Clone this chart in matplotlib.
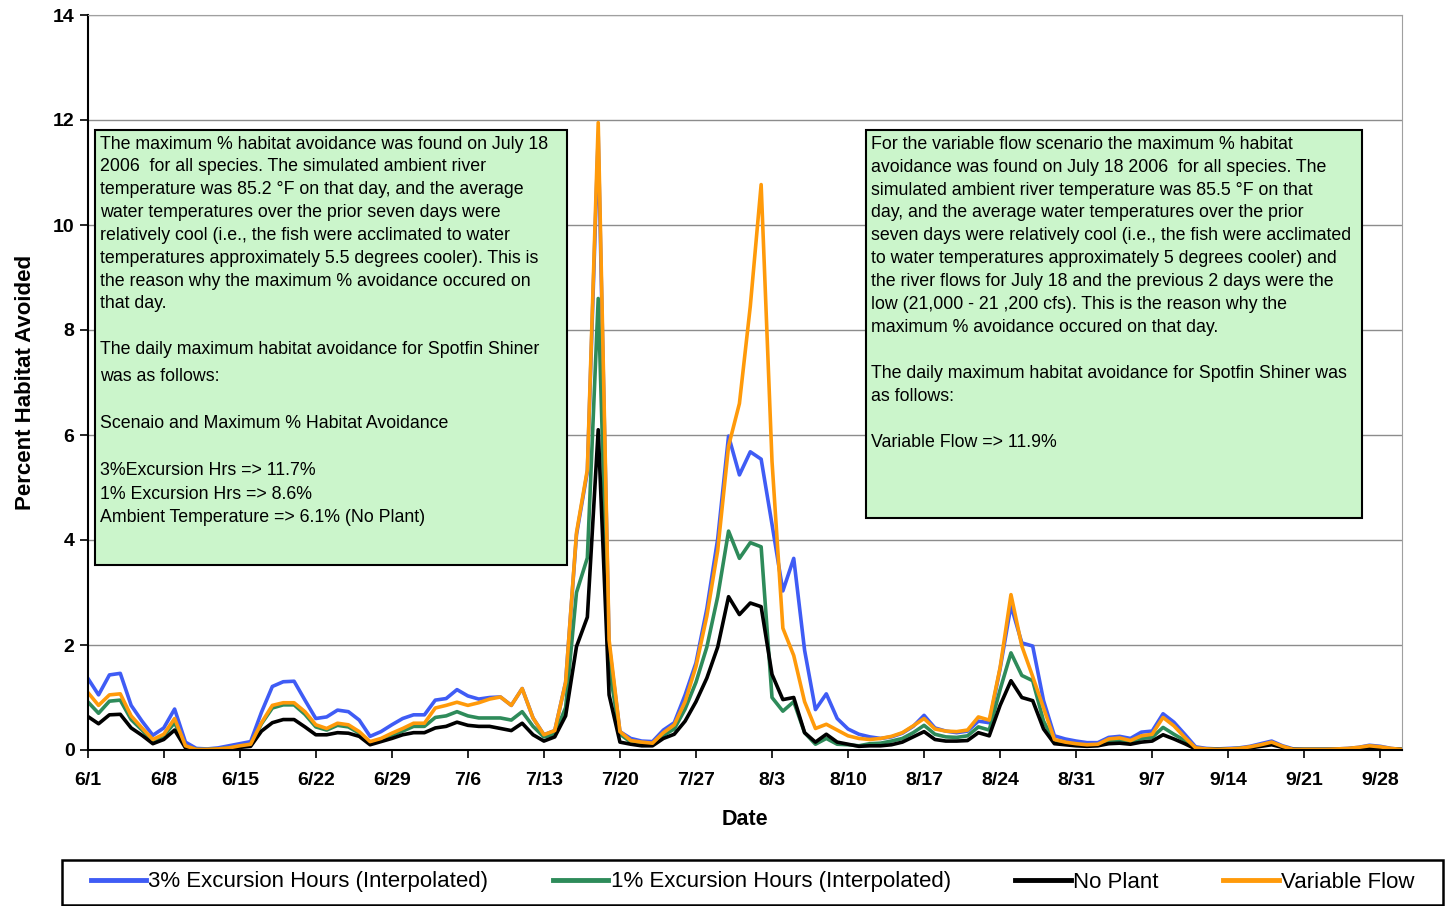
import numpy as np
import pandas as pd
import matplotlib
matplotlib.use('Agg')
import matplotlib.pyplot as plt
from matplotlib.patches import Rectangle

plt.rcParams['font.family'] = ['Liberation Sans', 'DejaVu Sans']

# daily values, 6/1/2006 to 9/30/2006
dates = pd.date_range('2006-06-01', '2006-09-30', freq='D')

exc3 = [1.37, 1.05, 1.43, 1.46, 0.85, 0.55, 0.28, 0.42, 0.78, 0.15,
        0.03, 0.02, 0.04, 0.08, 0.12, 0.16, 0.72, 1.21, 1.30, 1.31,
        0.95, 0.60, 0.63, 0.76, 0.73, 0.57, 0.26, 0.35, 0.48, 0.60,
        0.67, 0.67, 0.95, 0.98, 1.15, 1.03, 0.97, 1.00, 1.01, 0.85,
        1.17, 0.61, 0.29, 0.37, 1.29, 4.10, 5.30, 11.70, 2.00, 0.35,
        0.22, 0.17, 0.16, 0.38, 0.52, 1.05, 1.66, 2.69, 4.02, 5.98,
        5.24, 5.68, 5.54, 4.30, 3.03, 3.65, 1.90, 0.77, 1.07, 0.60,
        0.40, 0.30, 0.25, 0.22, 0.25, 0.32, 0.45, 0.66, 0.42, 0.36,
        0.33, 0.36, 0.55, 0.52, 1.55, 2.75, 2.04, 1.98, 0.94, 0.27,
        0.21, 0.17, 0.14, 0.14, 0.24, 0.26, 0.22, 0.34, 0.36, 0.69,
        0.53, 0.30, 0.06, 0.03, 0.02, 0.03, 0.04, 0.07, 0.12, 0.17,
        0.08, 0.02, 0.01, 0.01, 0.01, 0.02, 0.03, 0.05, 0.09, 0.07,
        0.03, 0.01]

exc1 = [0.92, 0.70, 0.93, 0.95, 0.58, 0.38, 0.17, 0.27, 0.52, 0.07,
        0.01, 0.01, 0.02, 0.04, 0.07, 0.10, 0.50, 0.80, 0.86, 0.86,
        0.68, 0.44, 0.38, 0.47, 0.44, 0.32, 0.14, 0.19, 0.28, 0.36,
        0.45, 0.45, 0.62, 0.65, 0.73, 0.65, 0.61, 0.61, 0.61, 0.57,
        0.73, 0.45, 0.25, 0.30, 0.81, 3.00, 3.66, 8.60, 1.57, 0.30,
        0.15, 0.12, 0.12, 0.28, 0.40, 0.78, 1.29, 1.96, 2.92, 4.17,
        3.65, 3.95, 3.87, 1.00, 0.74, 0.92, 0.33, 0.11, 0.22, 0.11,
        0.10, 0.08, 0.12, 0.13, 0.17, 0.22, 0.33, 0.47, 0.30, 0.25,
        0.24, 0.27, 0.44, 0.38, 1.15, 1.85, 1.42, 1.32, 0.55, 0.15,
        0.12, 0.10, 0.09, 0.09, 0.17, 0.18, 0.15, 0.22, 0.24, 0.43,
        0.30, 0.18, 0.03, 0.02, 0.01, 0.02, 0.03, 0.05, 0.09, 0.13,
        0.06, 0.01, 0.01, 0.01, 0.01, 0.01, 0.02, 0.04, 0.07, 0.05,
        0.02, 0.01]

no_plant = [0.64, 0.50, 0.67, 0.68, 0.42, 0.28, 0.12, 0.20, 0.38, 0.04,
            0.00, 0.00, 0.01, 0.02, 0.05, 0.07, 0.36, 0.52, 0.58, 0.58,
            0.44, 0.29, 0.29, 0.33, 0.32, 0.26, 0.10, 0.16, 0.22, 0.29,
            0.33, 0.33, 0.42, 0.45, 0.53, 0.47, 0.45, 0.45, 0.41, 0.37,
            0.51, 0.29, 0.17, 0.25, 0.65, 1.97, 2.53, 6.10, 1.05, 0.15,
            0.11, 0.08, 0.08, 0.22, 0.30, 0.55, 0.92, 1.37, 1.96, 2.92,
            2.58, 2.80, 2.73, 1.44, 0.96, 1.00, 0.33, 0.15, 0.30, 0.15,
            0.11, 0.07, 0.08, 0.08, 0.10, 0.15, 0.25, 0.35, 0.20, 0.17,
            0.17, 0.18, 0.33, 0.27, 0.85, 1.32, 1.00, 0.94, 0.40, 0.12,
            0.10, 0.08, 0.07, 0.08, 0.12, 0.13, 0.11, 0.15, 0.17, 0.29,
            0.21, 0.12, 0.02, 0.01, 0.01, 0.01, 0.02, 0.04, 0.07, 0.10,
            0.05, 0.01, 0.01, 0.01, 0.01, 0.01, 0.02, 0.03, 0.05, 0.04,
            0.02, 0.01]

var_flow = [1.10, 0.85, 1.05, 1.07, 0.65, 0.42, 0.20, 0.30, 0.60, 0.08,
            0.01, 0.01, 0.02, 0.04, 0.08, 0.11, 0.52, 0.85, 0.90, 0.90,
            0.73, 0.48, 0.41, 0.51, 0.48, 0.35, 0.16, 0.22, 0.32, 0.41,
            0.51, 0.51, 0.80, 0.85, 0.91, 0.85, 0.90, 0.97, 1.01, 0.85,
            1.17, 0.61, 0.29, 0.37, 1.29, 4.14, 5.34, 11.95, 2.10, 0.35,
            0.18, 0.15, 0.13, 0.33, 0.48, 0.92, 1.59, 2.55, 3.80, 5.79,
            6.60, 8.45, 10.77, 5.50, 2.32, 1.80, 0.92, 0.41, 0.49, 0.38,
            0.27, 0.22, 0.20, 0.22, 0.26, 0.33, 0.46, 0.60, 0.40, 0.36,
            0.35, 0.38, 0.63, 0.57, 1.57, 2.96, 1.98, 1.40, 0.80, 0.20,
            0.15, 0.12, 0.10, 0.11, 0.21, 0.23, 0.18, 0.27, 0.30, 0.62,
            0.46, 0.24, 0.04, 0.02, 0.01, 0.02, 0.03, 0.06, 0.10, 0.15,
            0.07, 0.01, 0.01, 0.01, 0.01, 0.02, 0.03, 0.05, 0.08, 0.06,
            0.03, 0.01]

series_names = ['3% Excursion Hours (Interpolated)', '1% Excursion Hours (Interpolated)',
                'No Plant', 'Variable Flow']
series_colors = ['#3f5cf5', '#2e8b5a', '#000000', '#ff9a0a']

left_note_top = ("The maximum % habitat avoidance was found on July 18\n"
                 "2006  for all species. The simulated ambient river\n"
                 "temperature was 85.2 \u00b0F on that day, and the average\n"
                 "water temperatures over the prior seven days were\n"
                 "relatively cool (i.e., the fish were acclimated to water\n"
                 "temperatures approximately 5.5 degrees cooler). This is\n"
                 "the reason why the maximum % avoidance occured on\n"
                 "that day.\n"
                 "\n"
                 "The daily maximum habitat avoidance for Spotfin Shiner")
left_note_bottom = ("was as follows:\n"
                    "\n"
                    "Scenaio and Maximum % Habitat Avoidance\n"
                    "\n"
                    "3%Excursion Hrs => 11.7%\n"
                    "1% Excursion Hrs => 8.6%\n"
                    "Ambient Temperature => 6.1% (No Plant)")

right_note = ("For the variable flow scenario the maximum % habitat\n"
              "avoidance was found on July 18 2006  for all species. The\n"
              "simulated ambient river temperature was 85.5 \u00b0F on that\n"
              "day, and the average water temperatures over the prior\n"
              "seven days were relatively cool (i.e., the fish were acclimated\n"
              "to water temperatures approximately 5 degrees cooler) and\n"
              "the river flows for July 18 and the previous 2 days were the\n"
              "low (21,000 - 21 ,200 cfs). This is the reason why the\n"
              "maximum % avoidance occured on that day.\n"
              "\n"
              "The daily maximum habitat avoidance for Spotfin Shiner was\n"
              "as follows:\n"
              "\n"
              "Variable Flow => 11.9%")

W, H = 1447, 906
fig = plt.figure(figsize=(W / 100, H / 100), dpi=100)
ax = fig.add_axes([87.7 / W, 1 - 750 / H, (1402 - 87.7) / W, (750 - 15) / H])

x = np.arange(len(dates))
for vals, name, col in zip([exc3, exc1, no_plant, var_flow], series_names, series_colors):
    ax.plot(x, vals, color=col, lw=2.6, label=name, solid_joinstyle='round')

ax.set_xlim(0, len(dates) - 1)
ax.set_ylim(0, 14)
ticks = x[::7]
ax.set_xticks(ticks)
ax.set_xticklabels([f"{dates[i].month}/{dates[i].day}" for i in ticks])
ax.set_yticks(range(0, 15, 2))
ax.tick_params(axis='both', labelsize=14, length=6, width=1.2, direction='out')
ax.tick_params(axis='x', pad=10)
for lab in ax.get_xticklabels() + ax.get_yticklabels():
    lab.set_fontweight('bold')
ax.grid(axis='y', color='#8c8c8c', lw=1)
ax.set_axisbelow(True)
for s in ['top', 'right']:
    ax.spines[s].set_color('#a0a0a0')
for s in ['left', 'bottom']:
    ax.spines[s].set_linewidth(1.5)
ax.set_xlabel('Date', fontsize=15.5, fontweight='bold', labelpad=14)
ax.set_ylabel('Percent Habitat Avoided', fontsize=16, fontweight='bold', labelpad=12)

# note boxes
box_fill = '#cbf5cb'
ax.add_patch(Rectangle((0.0056, 0.2517), 0.3591, 0.5918, transform=ax.transAxes,
                       facecolor=box_fill, edgecolor='black', lw=1.5, zorder=3))
ax.text(0.0095, 0.836, left_note_top, transform=ax.transAxes, fontsize=12.8,
        va='top', ha='left', linespacing=1.45, zorder=4)
ax.text(0.0095, 0.5197, left_note_bottom, transform=ax.transAxes, fontsize=12.8,
        va='top', ha='left', linespacing=1.5, zorder=4)
ax.add_patch(Rectangle((0.5922, 0.3156), 0.3774, 0.5279, transform=ax.transAxes,
                       facecolor=box_fill, edgecolor='black', lw=1.5, zorder=3))
ax.text(0.5962, 0.836, right_note, transform=ax.transAxes, fontsize=12.8,
        va='top', ha='left', linespacing=1.46, zorder=4)

# legend frame drawn separately so the entries stay centred inside it
fig.patches.append(Rectangle((62 / W, 1 - 905 / H), (1443 - 62) / W, 45 / H,
                             transform=fig.transFigure, facecolor='white',
                             edgecolor='black', lw=1.8, zorder=0))
leg = fig.legend(loc='center', bbox_to_anchor=(752.5 / W, 1 - 882 / H), ncol=4,
                 fontsize=16, frameon=False, handlelength=2.5, handletextpad=0.1,
                 columnspacing=2.9, borderaxespad=0)
for h in leg.get_lines():
    h.set_linewidth(3.5)

fig.savefig('out.png', dpi=100)
